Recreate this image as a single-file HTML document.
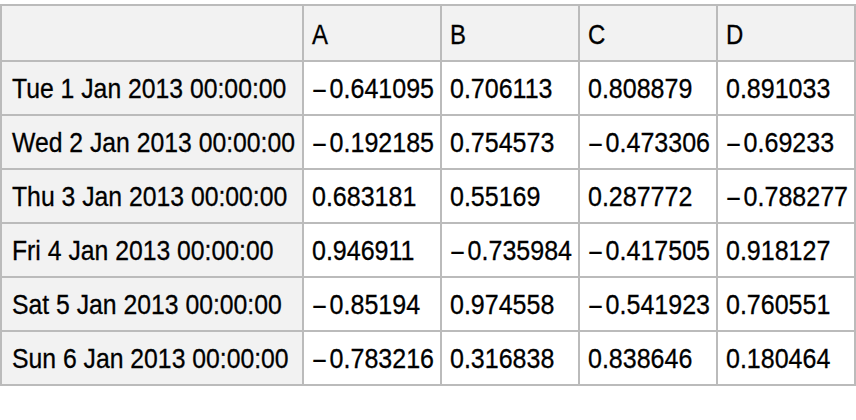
<!DOCTYPE html><html><head><meta charset="utf-8"><style>
html,body{margin:0;padding:0;background:#fff;width:856px;height:420px;overflow:hidden;position:relative}
.g{position:absolute;background:#f2f2f2}
.l{position:absolute;background:#bbbbbb}
.t{position:absolute;white-space:nowrap;font-family:"Liberation Sans",sans-serif;font-size:27.5px;line-height:40px;color:#000;transform-origin:0 0;-webkit-text-stroke:0.3px #000;height:40px}
</style></head><body>
<div class="g" style="left:0;top:4px;width:856px;height:56px"></div>
<div class="g" style="left:0;top:4px;width:302px;height:382px"></div>
<div class="l" style="left:0px;top:4px;width:2px;height:382px"></div>
<div class="l" style="left:302px;top:4px;width:2px;height:382px"></div>
<div class="l" style="left:440px;top:4px;width:2px;height:382px"></div>
<div class="l" style="left:578px;top:4px;width:2px;height:382px"></div>
<div class="l" style="left:716px;top:4px;width:2px;height:382px"></div>
<div class="l" style="left:854px;top:4px;width:2px;height:382px"></div>
<div class="l" style="left:0;top:4px;width:856px;height:2px"></div>
<div class="l" style="left:0;top:60px;width:856px;height:2px"></div>
<div class="l" style="left:0;top:114px;width:856px;height:2px"></div>
<div class="l" style="left:0;top:168px;width:856px;height:2px"></div>
<div class="l" style="left:0;top:222px;width:856px;height:2px"></div>
<div class="l" style="left:0;top:276px;width:856px;height:2px"></div>
<div class="l" style="left:0;top:330px;width:856px;height:2px"></div>
<div class="l" style="left:0;top:384px;width:856px;height:2px"></div>
<div class="t" style="left:312px;top:14.5px;transform:scaleX(0.87)">A</div>
<div class="t" style="left:450px;top:14.5px;transform:scaleX(0.87)">B</div>
<div class="t" style="left:588px;top:14.5px;transform:scaleX(0.87)">C</div>
<div class="t" style="left:726px;top:14.5px;transform:scaleX(0.87)">D</div>
<div class="t" style="left:12px;top:69px;transform:scaleX(0.9)">Tue 1 Jan 2013 00:00:00</div>
<div class="t" style="left:312px;top:69px;transform:scaleX(0.91)"><span style="margin-right:3.3px;position:relative;top:2px">−</span>0.641095</div>
<div class="t" style="left:450px;top:69px;transform:scaleX(0.91)">0.706113</div>
<div class="t" style="left:588px;top:69px;transform:scaleX(0.91)">0.808879</div>
<div class="t" style="left:726px;top:69px;transform:scaleX(0.91)">0.891033</div>
<div class="t" style="left:12px;top:123px;transform:scaleX(0.9)">Wed 2 Jan 2013 00:00:00</div>
<div class="t" style="left:312px;top:123px;transform:scaleX(0.91)"><span style="margin-right:3.3px;position:relative;top:2px">−</span>0.192185</div>
<div class="t" style="left:450px;top:123px;transform:scaleX(0.91)">0.754573</div>
<div class="t" style="left:588px;top:123px;transform:scaleX(0.91)"><span style="margin-right:3.3px;position:relative;top:2px">−</span>0.473306</div>
<div class="t" style="left:726px;top:123px;transform:scaleX(0.91)"><span style="margin-right:3.3px;position:relative;top:2px">−</span>0.69233</div>
<div class="t" style="left:12px;top:177px;transform:scaleX(0.9)">Thu 3 Jan 2013 00:00:00</div>
<div class="t" style="left:312px;top:177px;transform:scaleX(0.91)">0.683181</div>
<div class="t" style="left:450px;top:177px;transform:scaleX(0.91)">0.55169</div>
<div class="t" style="left:588px;top:177px;transform:scaleX(0.91)">0.287772</div>
<div class="t" style="left:726px;top:177px;transform:scaleX(0.91)"><span style="margin-right:3.3px;position:relative;top:2px">−</span>0.788277</div>
<div class="t" style="left:12px;top:231px;transform:scaleX(0.9)">Fri 4 Jan 2013 00:00:00</div>
<div class="t" style="left:312px;top:231px;transform:scaleX(0.91)">0.946911</div>
<div class="t" style="left:450px;top:231px;transform:scaleX(0.91)"><span style="margin-right:3.3px;position:relative;top:2px">−</span>0.735984</div>
<div class="t" style="left:588px;top:231px;transform:scaleX(0.91)"><span style="margin-right:3.3px;position:relative;top:2px">−</span>0.417505</div>
<div class="t" style="left:726px;top:231px;transform:scaleX(0.91)">0.918127</div>
<div class="t" style="left:12px;top:285px;transform:scaleX(0.9)">Sat 5 Jan 2013 00:00:00</div>
<div class="t" style="left:312px;top:285px;transform:scaleX(0.91)"><span style="margin-right:3.3px;position:relative;top:2px">−</span>0.85194</div>
<div class="t" style="left:450px;top:285px;transform:scaleX(0.91)">0.974558</div>
<div class="t" style="left:588px;top:285px;transform:scaleX(0.91)"><span style="margin-right:3.3px;position:relative;top:2px">−</span>0.541923</div>
<div class="t" style="left:726px;top:285px;transform:scaleX(0.91)">0.760551</div>
<div class="t" style="left:12px;top:339px;transform:scaleX(0.9)">Sun 6 Jan 2013 00:00:00</div>
<div class="t" style="left:312px;top:339px;transform:scaleX(0.91)"><span style="margin-right:3.3px;position:relative;top:2px">−</span>0.783216</div>
<div class="t" style="left:450px;top:339px;transform:scaleX(0.91)">0.316838</div>
<div class="t" style="left:588px;top:339px;transform:scaleX(0.91)">0.838646</div>
<div class="t" style="left:726px;top:339px;transform:scaleX(0.91)">0.180464</div>
</body></html>
